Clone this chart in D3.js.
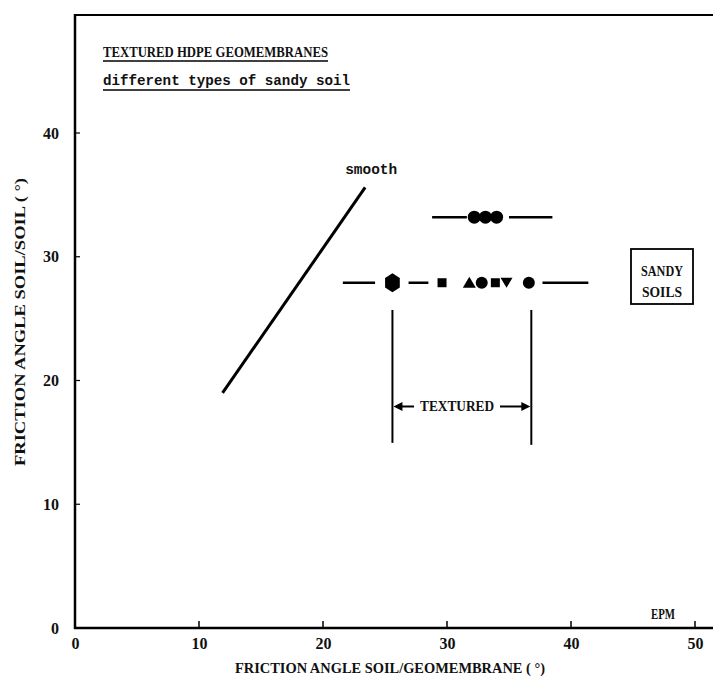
<!DOCTYPE html>
<html>
<head>
<meta charset="utf-8">
<script src="https://cdn.jsdelivr.net/npm/d3@7"></script>
<style>
  body { margin: 0; background: #fff; }
  text { fill: #111; }
</style>
</head>
<body>
<svg id="chart" width="713" height="677"></svg>
<script>
// axis ticks
const xTicks = [0, 10, 20, 30, 40, 50];
const yTicks = [0, 10, 20, 30, 40];

// smooth geomembrane line (soil/geomembrane, soil/soil)
const smoothLine = [[11.9, 19.0], [23.4, 35.6]];

// upper row of textured results
const upperY = 33.2;
const upperDashes = [[28.8, 31.6], [35.0, 38.5]];
const upperCircles = [32.2, 33.1, 34.0];

// lower row of textured results
const lowerY = 27.9;
const lowerDashes = [[21.6, 24.2], [26.9, 28.5], [37.7, 41.4]];
const lowerX = [25.6, 29.6, 31.8, 32.8, 33.9, 34.8, 36.6];
const lowerShapes = ["hexagon", "square", "triangle", "circle", "square", "triangleDown", "circle"];

// textured range bracket
const texturedRange = [25.6, 36.8];
const bracketY = [25.7, 14.8];
const arrowY = 17.9;

const svg = d3.select("#chart");

const x = d3.scaleLinear().domain([0, 50]).range([75, 695]);
const y = d3.scaleLinear().domain([0, 40]).range([628, 133]);

const serif = "'Liberation Serif', 'DejaVu Serif', serif";
const mono = "'Liberation Mono', 'DejaVu Sans Mono', monospace";

// frame: left axis, bottom axis, top border
svg.append("line")
  .attr("x1", 75).attr("x2", 75)
  .attr("y1", 14).attr("y2", y(0) + 1)
  .attr("stroke", "#000").attr("stroke-width", 2.5);
svg.append("line")
  .attr("x1", 74).attr("x2", 713)
  .attr("y1", y(0)).attr("y2", y(0))
  .attr("stroke", "#000").attr("stroke-width", 2.5);
svg.append("line")
  .attr("x1", 74).attr("x2", 713)
  .attr("y1", 15).attr("y2", 15)
  .attr("stroke", "#000").attr("stroke-width", 2);

// x axis
const xAxis = d3.axisBottom(x).tickValues(xTicks).tickSize(0).tickPadding(10).tickFormat(d3.format("d"));
const gx = svg.append("g")
  .attr("transform", `translate(0,${y(0)})`)
  .call(xAxis);
gx.select(".domain").remove();
gx.selectAll("text")
  .attr("font-family", serif).attr("font-weight", "bold").attr("font-size", 16)
  .attr("textLength", d => d === 0 ? 8 : 16).attr("lengthAdjust", "spacingAndGlyphs");
svg.selectAll(".xtick")
  .data(xTicks.filter(d => d > 0))
  .enter()
  .append("line")
  .attr("x1", d => x(d)).attr("x2", d => x(d))
  .attr("y1", y(0)).attr("y2", y(0) - 7)
  .attr("stroke", "#000").attr("stroke-width", 1.5);

// y axis
const yAxis = d3.axisLeft(y).tickValues(yTicks).tickSize(0).tickPadding(16).tickFormat(d3.format("d"));
const gy = svg.append("g")
  .attr("transform", "translate(75,0)")
  .call(yAxis);
gy.select(".domain").remove();
gy.selectAll("text")
  .attr("font-family", serif).attr("font-weight", "bold").attr("font-size", 16)
  .attr("textLength", d => d === 0 ? 8 : 16).attr("lengthAdjust", "spacingAndGlyphs");
svg.selectAll(".ytick")
  .data(yTicks.filter(d => d > 0))
  .enter()
  .append("line")
  .attr("x1", 75).attr("x2", 80)
  .attr("y1", d => y(d)).attr("y2", d => y(d))
  .attr("stroke", "#000").attr("stroke-width", 1.2);

// axis titles
svg.append("text")
  .attr("x", 390).attr("y", 673)
  .attr("text-anchor", "middle")
  .attr("font-family", serif).attr("font-weight", "bold").attr("font-size", 15)
  .attr("textLength", 310).attr("lengthAdjust", "spacingAndGlyphs")
  .text("FRICTION ANGLE SOIL/GEOMEMBRANE ( °)");
svg.append("text")
  .attr("transform", "translate(25,322) rotate(-90)")
  .attr("text-anchor", "middle")
  .attr("font-family", serif).attr("font-weight", "bold").attr("font-size", 15)
  .attr("textLength", 288).attr("lengthAdjust", "spacingAndGlyphs")
  .text("FRICTION ANGLE SOIL/SOIL ( °)");

// titles
svg.append("text")
  .attr("x", 103).attr("y", 57)
  .attr("font-family", serif).attr("font-weight", "bold").attr("font-size", 15)
  .attr("textLength", 225).attr("lengthAdjust", "spacingAndGlyphs")
  .text("TEXTURED HDPE GEOMEMBRANES");
svg.append("line")
  .attr("x1", 103).attr("x2", 328).attr("y1", 61).attr("y2", 61)
  .attr("stroke", "#000").attr("stroke-width", 1.5);
svg.append("text")
  .attr("x", 103).attr("y", 85)
  .attr("font-family", mono).attr("font-weight", "bold").attr("font-size", 15)
  .attr("textLength", 247).attr("lengthAdjust", "spacingAndGlyphs")
  .text("different types of sandy soil");
svg.append("line")
  .attr("x1", 103).attr("x2", 350).attr("y1", 90).attr("y2", 90)
  .attr("stroke", "#000").attr("stroke-width", 1.5);

// smooth line
svg.append("path")
  .datum(smoothLine)
  .attr("d", d3.line().x(d => x(d[0])).y(d => y(d[1])))
  .attr("stroke", "#000").attr("stroke-width", 3).attr("fill", "none");
svg.append("text")
  .attr("x", x(smoothLine[1][0]) + 6).attr("y", y(smoothLine[1][1]) - 13)
  .attr("text-anchor", "middle")
  .attr("font-family", mono).attr("font-weight", "bold").attr("font-size", 14)
  .attr("textLength", 52).attr("lengthAdjust", "spacingAndGlyphs")
  .text("smooth");

// dashes
function drawDashes(list, yv) {
  svg.selectAll(null)
    .data(list)
    .enter()
    .append("line")
    .attr("x1", d => x(d[0])).attr("x2", d => x(d[1]))
    .attr("y1", y(yv)).attr("y2", y(yv))
    .attr("stroke", "#000").attr("stroke-width", 2.5);
}
drawDashes(upperDashes, upperY);
drawDashes(lowerDashes, lowerY);

// upper circles
svg.selectAll(null)
  .data(upperCircles)
  .enter()
  .append("circle")
  .attr("cx", d => x(d)).attr("cy", y(upperY))
  .attr("r", 6.5).attr("fill", "#000");

// lower markers
const symbolFor = {
  hexagon: () => {
    const pts = d3.range(6).map(i => {
      const a = Math.PI / 6 + i * Math.PI / 3;
      return [8.5 * Math.cos(a), 9.5 * Math.sin(a)];
    });
    return "M" + pts.join("L") + "Z";
  },
  square: () => "M-4.5,-4.5H4.5V4.5H-4.5Z",
  triangle: () => "M-6.5,5L0,-6L6.5,5Z",
  triangleDown: () => "M-6,-5L6,-5L0,5Z",
  circle: () => d3.symbol().type(d3.symbolCircle).size(Math.PI * 36)()
};
svg.selectAll(null)
  .data(lowerX)
  .enter()
  .append("path")
  .attr("transform", d => `translate(${x(d)},${y(lowerY)})`)
  .attr("d", (d, i) => symbolFor[lowerShapes[i]]())
  .attr("fill", "#000");

// textured bracket
svg.selectAll(null)
  .data(texturedRange)
  .enter()
  .append("line")
  .attr("x1", d => x(d)).attr("x2", d => x(d))
  .attr("y1", y(bracketY[0])).attr("y2", (d, i) => y(bracketY[1]) + (i === 0 ? -2 : 0))
  .attr("stroke", "#000").attr("stroke-width", 2);

const ay = y(arrowY);
svg.append("line")
  .attr("x1", x(texturedRange[0]) + 6).attr("x2", 414)
  .attr("y1", ay).attr("y2", ay)
  .attr("stroke", "#000").attr("stroke-width", 2);
svg.append("path")
  .attr("d", `M${x(texturedRange[0]) + 1},${ay}L${x(texturedRange[0]) + 10},${ay - 4.5}L${x(texturedRange[0]) + 10},${ay + 4.5}Z`)
  .attr("fill", "#000");
svg.append("line")
  .attr("x1", 500).attr("x2", x(texturedRange[1]) - 6)
  .attr("y1", ay).attr("y2", ay)
  .attr("stroke", "#000").attr("stroke-width", 2);
svg.append("path")
  .attr("d", `M${x(texturedRange[1]) - 1},${ay}L${x(texturedRange[1]) - 10},${ay - 4.5}L${x(texturedRange[1]) - 10},${ay + 4.5}Z`)
  .attr("fill", "#000");
svg.append("text")
  .attr("x", 457).attr("y", ay + 5)
  .attr("text-anchor", "middle")
  .attr("font-family", serif).attr("font-weight", "bold").attr("font-size", 15)
  .attr("textLength", 74).attr("lengthAdjust", "spacingAndGlyphs")
  .text("TEXTURED");

// sandy soils box
svg.append("rect")
  .attr("x", 631).attr("y", 249)
  .attr("width", 62).attr("height", 55)
  .attr("fill", "none").attr("stroke", "#000").attr("stroke-width", 1.8);
svg.append("text")
  .attr("x", 662).attr("y", 276)
  .attr("text-anchor", "middle")
  .attr("font-family", serif).attr("font-weight", "bold").attr("font-size", 15)
  .attr("textLength", 42).attr("lengthAdjust", "spacingAndGlyphs")
  .text("SANDY");
svg.append("text")
  .attr("x", 662).attr("y", 297)
  .attr("text-anchor", "middle")
  .attr("font-family", serif).attr("font-weight", "bold").attr("font-size", 15)
  .attr("textLength", 40).attr("lengthAdjust", "spacingAndGlyphs")
  .text("SOILS");

// EPM tag
svg.append("text")
  .attr("x", 663).attr("y", 619)
  .attr("text-anchor", "middle")
  .attr("font-family", serif).attr("font-weight", "bold").attr("font-size", 14)
  .attr("textLength", 24).attr("lengthAdjust", "spacingAndGlyphs")
  .text("EPM");
</script>
</body>
</html>
